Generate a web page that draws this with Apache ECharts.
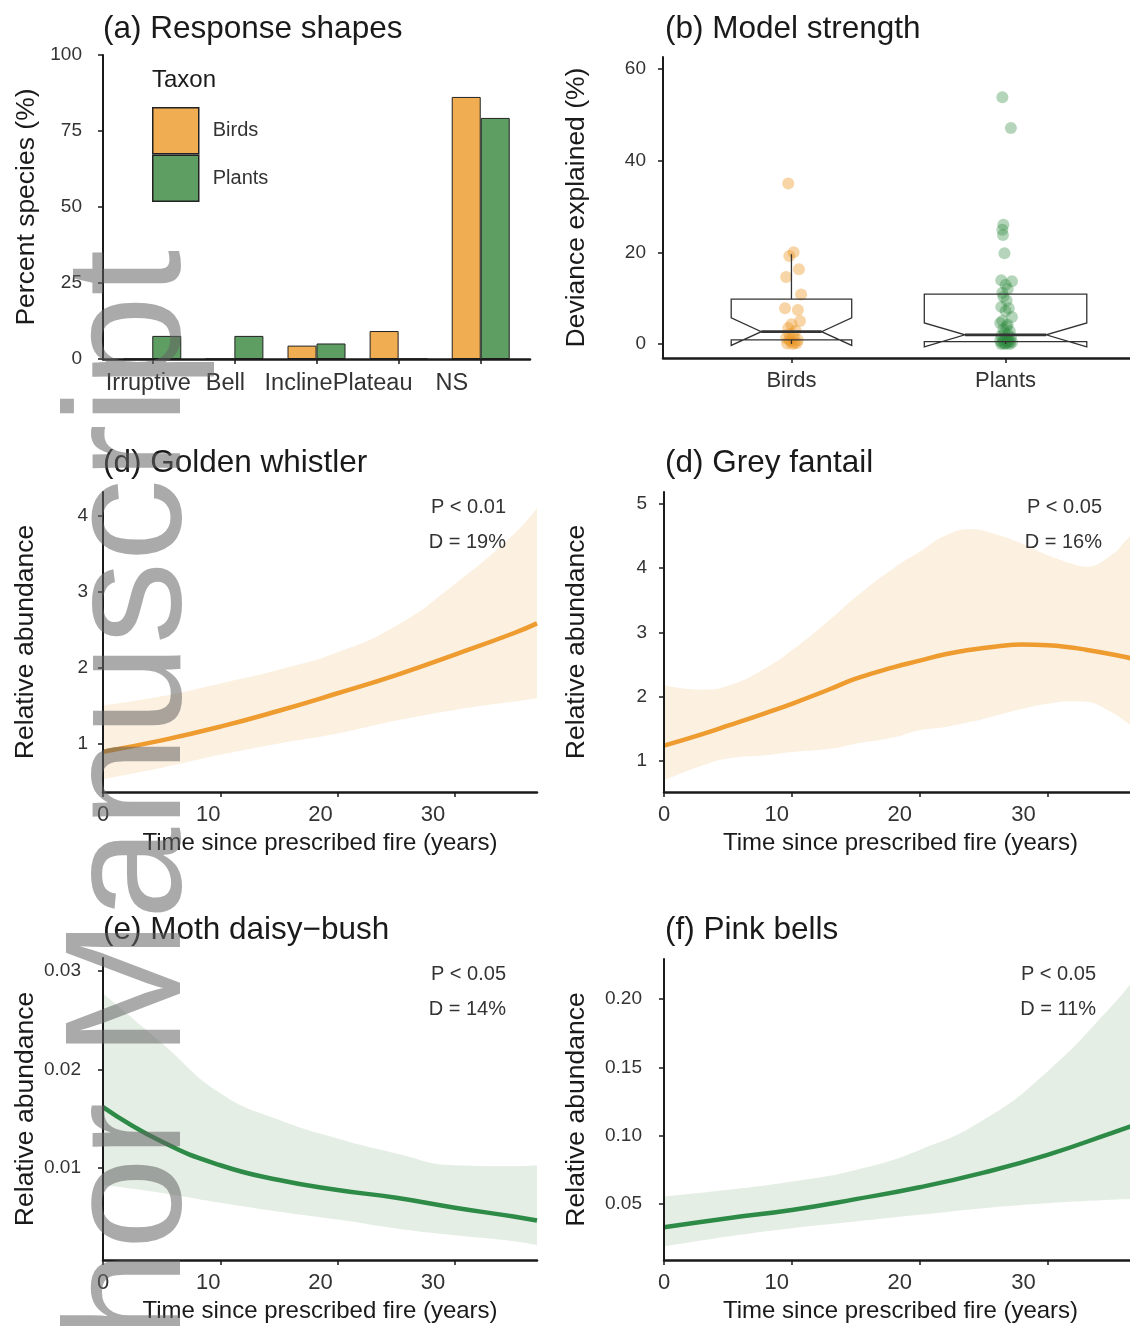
<!DOCTYPE html>
<html>
<head>
<meta charset="utf-8">
<script src="https://cdn.jsdelivr.net/npm/echarts@6/dist/echarts.min.js"></script>
<style>
  html, body { margin: 0; padding: 0; background: #fff; }
  #main { width: 1130px; height: 1326px; }
</style>
</head>
<body>
<div id="main"></div>
<script>
// ---- data ----
var shapeCats = ['Irruptive', 'Bell', 'Incline', 'Plateau', 'NS'];
var shapeBirds = [0, 0, 4.4, 9.2, 86.2];
var shapePlants = [7.6, 7.6, 5.1, 0, 79.3];

var taxa = ['Birds', 'Plants'];
// q1, median, q3, lower whisker, upper whisker
var boxBirds = [0.9, 2.7, 9.8, 0, 19.6];
var boxPlants = [0.5, 2.0, 10.9, 0, 10.9];
// jittered points [x, deviance explained]
var devBirds = [
    [0.985, 35.0], [1.01, 20.0], [0.99, 19.2], [1.035, 16.3], [0.975, 14.6], [1.045, 10.8],
    [0.97, 7.8], [1.03, 7.4], [1.04, 5.0], [1.0, 4.3], [0.985, 3.5], [1.02, 2.9],
    [0.99, 2.2], [1.01, 1.7], [0.975, 1.3], [1.03, 0.9], [0.99, 1.0], [0.995, 0.6],
    [1.015, 0.3], [0.98, 0.1], [1.005, 0.0], [1.025, 0.2]
];
var devPlants = [
    [1.985, 53.8], [2.025, 47.1], [1.99, 26.0], [1.985, 24.9], [1.988, 23.8], [1.995, 19.8],
    [1.98, 13.9], [2.03, 13.7], [2.0, 12.9], [2.01, 12.0], [1.985, 11.2], [1.99, 10.3],
    [2.005, 9.5], [1.98, 8.1], [2.015, 7.8], [2.0, 7.2], [2.03, 5.9], [1.985, 5.0],
    [1.975, 4.6], [2.01, 4.2], [2.005, 3.8], [1.99, 3.2], [2.02, 2.8], [1.995, 2.4],
    [2.01, 2.1], [1.98, 1.8], [2.025, 1.5], [2.0, 1.3], [1.99, 1.0], [2.015, 0.9],
    [1.975, 0.7], [2.005, 0.5], [2.03, 0.4], [1.985, 0.3], [2.01, 0.2], [1.995, 0.1],
    [2.02, 0.0], [1.98, 0.0], [2.0, 0.05], [2.02, 0.6]
];

var years = [0, 5, 10, 15, 20, 25, 30, 35, 37];
var whistlerFit = [0.89, 1.04, 1.22, 1.43, 1.66, 1.9, 2.17, 2.45, 2.58];
var whistlerUpper = [1.50, 1.62, 1.79, 1.97, 2.2, 2.55, 3.1, 3.75, 4.1];
var whistlerLower = [0.53, 0.68, 0.85, 1.0, 1.13, 1.3, 1.44, 1.55, 1.59];

var fantailYears = [0, 3, 5, 8, 10, 13, 15, 18, 20, 22, 24, 26, 28, 30, 32, 33, 35, 36, 37];
var fantailFit = [1.24, 1.42, 1.55, 1.75, 1.89, 2.12, 2.28, 2.46, 2.56, 2.66, 2.73, 2.78, 2.81, 2.80, 2.76, 2.73, 2.66, 2.62, 2.57];
var fantailUpper = [2.18, 2.11, 2.17, 2.45, 2.72, 3.2, 3.55, 4.0, 4.25, 4.5, 4.6, 4.52, 4.38, 4.2, 4.06, 4.02, 4.2, 4.4, 4.62];
var fantailLower = [0.70, 0.93, 1.04, 1.09, 1.14, 1.19, 1.27, 1.37, 1.48, 1.53, 1.61, 1.71, 1.81, 1.89, 1.93, 1.92, 1.76, 1.63, 1.48];

var daisyFit = [0.0162, 0.0127, 0.0103, 0.0088, 0.0078, 0.0070, 0.0060, 0.0051, 0.0047];
var daisyUpper = [0.0277, 0.0227, 0.0176, 0.0149, 0.0130, 0.0115, 0.0103, 0.0102, 0.0103];
var daisyLower = [0.0083, 0.0075, 0.0065, 0.0056, 0.0048, 0.0039, 0.0032, 0.0026, 0.0022];

var bellsFit = [0.0332, 0.0398, 0.0458, 0.0537, 0.0624, 0.0731, 0.0861, 0.1020, 0.1085];
var bellsUpper = [0.0556, 0.0605, 0.0666, 0.0751, 0.0897, 0.1117, 0.1471, 0.1947, 0.217];
var bellsLower = [0.0190, 0.0263, 0.0324, 0.0373, 0.0422, 0.0471, 0.0507, 0.0532, 0.0540];

var stats = [
    ['P < 0.01', 'D = 19%'],
    ['P < 0.05', 'D = 16%'],
    ['P < 0.05', 'D = 14%'],
    ['P < 0.05', 'D = 11%']
];

// ---- styling ----
var FONT = 'Liberation Sans, Arial, sans-serif';
var ORANGE = '#F0AD52';
var GREEN = '#5E9E63';
var LINE_OR = '#EE9B2F';
var LINE_GR = '#2E8B47';
var BAND_OR = '#FCF0E1';
var BAND_GR = '#E5EEE5';
var INK = '#1a1a1a';
// in the figure the x tick labels sit a little left of their ticks (px)
var SHIFT_SHAPES = [-4, -9, -18, -26, -29];
var SHIFT_LEFT = [0, -12, -17, -22];
var SHIFT_RIGHT = [0, -15, -20, -24];

function xAxisOf(idx, o) {
    var size = o.size || 22;
    var fmt = o.fmt || function (v) { return String(v); };
    var rich = {};
    (o.shift || []).forEach(function (d, i) {
        rich['s' + i] = { fontSize: size, color: '#333', padding: [0, -2 * d, 0, 0] };
    });
    return {
        type: 'value', gridIndex: idx, z: 5,
        splitLine: { show: false },
        axisLine: { onZero: false, lineStyle: { color: INK, width: 2.5 } },
        axisTick: { length: 5, lineStyle: { color: INK, width: 1.5 }, customValues: o.ticks },
        axisLabel: {
            color: '#333', fontSize: size, margin: o.margin || 12, customValues: o.ticks, rich: rich,
            formatter: function (v) {
                var k = o.ticks.indexOf(v);
                return o.shift ? '{s' + k + '|' + fmt(v) + '}' : fmt(v);
            }
        },
        min: o.min, max: o.max,
        name: o.name || '', nameLocation: 'middle', nameGap: 39,
        nameTextStyle: { color: INK, fontSize: 24 }
    };
}

function yAxisOf(idx, o) {
    return {
        type: 'value', gridIndex: idx, z: 5,
        splitLine: { show: false },
        axisLine: { onZero: false, lineStyle: { color: INK, width: 2 } },
        axisTick: { length: 5, lineStyle: { color: INK, width: 1.5 }, customValues: o.ticks },
        axisLabel: { color: '#333', fontSize: 19, margin: o.margin, customValues: o.ticks, formatter: o.fmt },
        min: o.min, max: o.max, interval: o.interval,
        name: o.name, nameLocation: 'middle', nameGap: o.gap,
        nameTextStyle: { color: INK, fontSize: 26.5 }
    };
}

// confidence band: upper area filled down to the axis, then a white area under the lower limit
function ribbon(idx, xs, lower, upper, fit, band, stroke) {
    var lo = xs.map(function (x, i) { return [x, lower[i]]; });
    var hi = xs.map(function (x, i) { return [x, upper[i]]; });
    var mid = xs.map(function (x, i) { return [x, fit[i]]; });
    var common = { type: 'line', xAxisIndex: idx, yAxisIndex: idx, symbol: 'none', smooth: 0.5, silent: true };
    return [
        Object.assign({}, common, { data: hi, z: 1, lineStyle: { opacity: 0 }, areaStyle: { color: band, opacity: 1, origin: 'start' } }),
        Object.assign({}, common, { data: lo, z: 1, lineStyle: { opacity: 0 }, areaStyle: { color: '#fff', opacity: 1, origin: 'start' } }),
        Object.assign({}, common, { data: mid, z: 3, lineStyle: { color: stroke, width: 4.5 } })
    ];
}

function renderNotchBox(params, api) {
    var x = api.value(0), q1 = api.value(1), med = api.value(2), q3 = api.value(3);
    var wlo = api.value(4), whi = api.value(5), n = api.value(6);
    var unit = api.size([1, 0])[0];
    var half = unit * 0.06 * Math.sqrt(n);          // varwidth box
    var notch = 1.58 * (q3 - q1) / Math.sqrt(n);
    var cx = api.coord([x, 0])[0];
    var Y = function (v) { return api.coord([x, v])[1]; };
    var st = { stroke: '#333', lineWidth: 1.3, fill: 'none' };
    var kids = [
        { type: 'polygon', shape: { points: [
            [cx - half, Y(q3)], [cx - half, Y(med + notch)], [cx - half / 2, Y(med)],
            [cx - half, Y(med - notch)], [cx - half, Y(q1)], [cx + half, Y(q1)],
            [cx + half, Y(med - notch)], [cx + half / 2, Y(med)], [cx + half, Y(med + notch)],
            [cx + half, Y(q3)]
        ] }, style: st },
        { type: 'line', shape: { x1: cx - half / 2, y1: Y(med), x2: cx + half / 2, y2: Y(med) },
          style: { stroke: '#333', lineWidth: 2.6 } }
    ];
    if (whi > q3) kids.push({ type: 'line', shape: { x1: cx, y1: Y(q3), x2: cx, y2: Y(whi) }, style: st });
    if (wlo < q1) kids.push({ type: 'line', shape: { x1: cx, y1: Y(q1), x2: cx, y2: Y(wlo) }, style: st });
    return { type: 'group', children: kids };
}

var titleStyle = { color: INK, fontSize: 31.5, fontWeight: 'normal' };
var panelTitles = [
    { text: '(a) Response shapes', left: 103, top: 13 },
    { text: '(b) Model strength', left: 665, top: 13 },
    { text: '(d) Golden whistler', left: 103, top: 447 },
    { text: '(d) Grey fantail', left: 665, top: 447 },
    { text: '(e) Moth daisy\u2212bush', left: 103, top: 914 },
    { text: '(f) Pink bells', left: 665, top: 914 }
].map(function (t) { return Object.assign({ padding: 0, textStyle: titleStyle }, t); });
panelTitles.push({ text: 'Taxon', left: 152, top: 68, padding: 0, textStyle: { color: INK, fontSize: 24, fontWeight: 'normal' } });

var statPos = [[506, 507], [1102, 507], [506, 974], [1096, 974]];
var graphics = [];
stats.forEach(function (s, i) {
    graphics.push({ type: 'text', x: statPos[i][0], y: statPos[i][1], z: 20,
        style: { text: s[0], font: '20px ' + FONT, fill: '#333', align: 'right', verticalAlign: 'middle' } });
    graphics.push({ type: 'text', x: statPos[i][0], y: statPos[i][1] + 35, z: 20,
        style: { text: s[1], font: '20px ' + FONT, fill: '#333', align: 'right', verticalAlign: 'middle' } });
});
graphics.push({
    type: 'text', x: 134, y: 250, rotation: Math.PI / 2, z: 100, silent: true,
    style: { text: 'Author Manuscript', font: '165px ' + FONT, fill: 'rgba(100,100,100,0.55)', align: 'right', verticalAlign: 'middle' }
});

var option = {
    animation: false,
    backgroundColor: '#fff',
    textStyle: { fontFamily: FONT },
    title: panelTitles,
    legend: {
        data: ['Birds', 'Plants'], orient: 'vertical', left: 152, top: 107, padding: 0,
        itemWidth: 46, itemHeight: 46, itemGap: 0, selectedMode: false, icon: 'rect',
        itemStyle: { borderColor: '#222', borderWidth: 1.5 },
        textStyle: { color: '#333', fontSize: 20, padding: [0, 0, 0, 9] }
    },
    grid: [
        { left: 103, top: 55, width: 427, height: 304 },
        { left: 663, top: 57, width: 471, height: 301 },
        { left: 103, top: 492, width: 434, height: 300 },
        { left: 664, top: 492, width: 473, height: 300 },
        { left: 103, top: 958, width: 434, height: 302 },
        { left: 664, top: 959, width: 473, height: 301 }
    ].map(function (g) { return Object.assign({ outerBoundsMode: 'none', containLabel: false }, g); }),
    xAxis: [
        xAxisOf(0, { min: 0.4, max: 5.6, ticks: [1, 2, 3, 4, 5], margin: 13, size: 23.5, shift: SHIFT_SHAPES,
            fmt: function (v) { return shapeCats[Math.round(v) - 1]; } }),
        xAxisOf(1, { min: 0.4, max: 2.6, ticks: [1, 2], margin: 12,
            fmt: function (v) { return taxa[Math.round(v) - 1]; } }),
        xAxisOf(2, { min: 0, max: 37, ticks: [0, 10, 20, 30], shift: SHIFT_LEFT, name: 'Time since prescribed fire (years)' }),
        xAxisOf(3, { min: 0, max: 37, ticks: [0, 10, 20, 30], shift: SHIFT_RIGHT, name: 'Time since prescribed fire (years)' }),
        xAxisOf(4, { min: 0, max: 37, ticks: [0, 10, 20, 30], shift: SHIFT_LEFT, name: 'Time since prescribed fire (years)' }),
        xAxisOf(5, { min: 0, max: 37, ticks: [0, 10, 20, 30], shift: SHIFT_RIGHT, name: 'Time since prescribed fire (years)' })
    ],
    yAxis: [
        yAxisOf(0, { min: 0, max: 100, interval: 25, margin: 21, name: 'Percent species (%)', gap: 63 }),
        yAxisOf(1, { min: -3.05, max: 62.6, ticks: [0, 20, 40, 60], margin: 17, name: 'Deviance explained (%)', gap: 73 }),
        yAxisOf(2, { min: 0.36, max: 4.31, ticks: [1, 2, 3, 4], margin: 15, name: 'Relative abundance', gap: 64 }),
        yAxisOf(3, { min: 0.52, max: 5.18, ticks: [1, 2, 3, 4, 5], margin: 17, name: 'Relative abundance', gap: 74 }),
        yAxisOf(4, { min: 0.0007, max: 0.0313, ticks: [0.01, 0.02, 0.03], margin: 22, name: 'Relative abundance', gap: 64,
            fmt: function (v) { return v.toFixed(2); } }),
        yAxisOf(5, { min: 0.0092, max: 0.2293, ticks: [0.05, 0.1, 0.15, 0.2], margin: 22, name: 'Relative abundance', gap: 74,
            fmt: function (v) { return v.toFixed(2); } })
    ],
    graphic: graphics,
    series: [
        {
            name: 'Birds', type: 'bar', xAxisIndex: 0, yAxisIndex: 0, barWidth: 29, barGap: '0%',
            data: shapeBirds.map(function (v, i) { return [i + 1, v]; }),
            itemStyle: { color: ORANGE, borderColor: '#222', borderWidth: 1 }
        },
        {
            name: 'Plants', type: 'bar', xAxisIndex: 0, yAxisIndex: 0, barWidth: 29, barGap: '0%',
            data: shapePlants.map(function (v, i) { return [i + 1, v]; }),
            itemStyle: { color: GREEN, borderColor: '#222', borderWidth: 1 }
        },
        {
            name: 'bird points', type: 'scatter', xAxisIndex: 1, yAxisIndex: 1, symbolSize: 12, z: 2,
            data: devBirds, itemStyle: { color: 'rgba(236,150,35,0.5)' }
        },
        {
            name: 'plant points', type: 'scatter', xAxisIndex: 1, yAxisIndex: 1, symbolSize: 12, z: 2,
            data: devPlants, itemStyle: { color: 'rgba(46,139,64,0.45)' }
        },
        {
            name: 'boxes', type: 'custom', xAxisIndex: 1, yAxisIndex: 1, z: 4, silent: true,
            renderItem: renderNotchBox,
            data: [
                [1].concat(boxBirds, [devBirds.length]),
                [2].concat(boxPlants, [devPlants.length])
            ]
        }
    ]
        .concat(ribbon(2, years, whistlerLower, whistlerUpper, whistlerFit, BAND_OR, LINE_OR))
        .concat(ribbon(3, fantailYears, fantailLower, fantailUpper, fantailFit, BAND_OR, LINE_OR))
        .concat(ribbon(4, years, daisyLower, daisyUpper, daisyFit, BAND_GR, LINE_GR))
        .concat(ribbon(5, years, bellsLower, bellsUpper, bellsFit, BAND_GR, LINE_GR))
};

var chart = echarts.init(document.getElementById('main'));
chart.setOption(option);
</script>
</body>
</html>
